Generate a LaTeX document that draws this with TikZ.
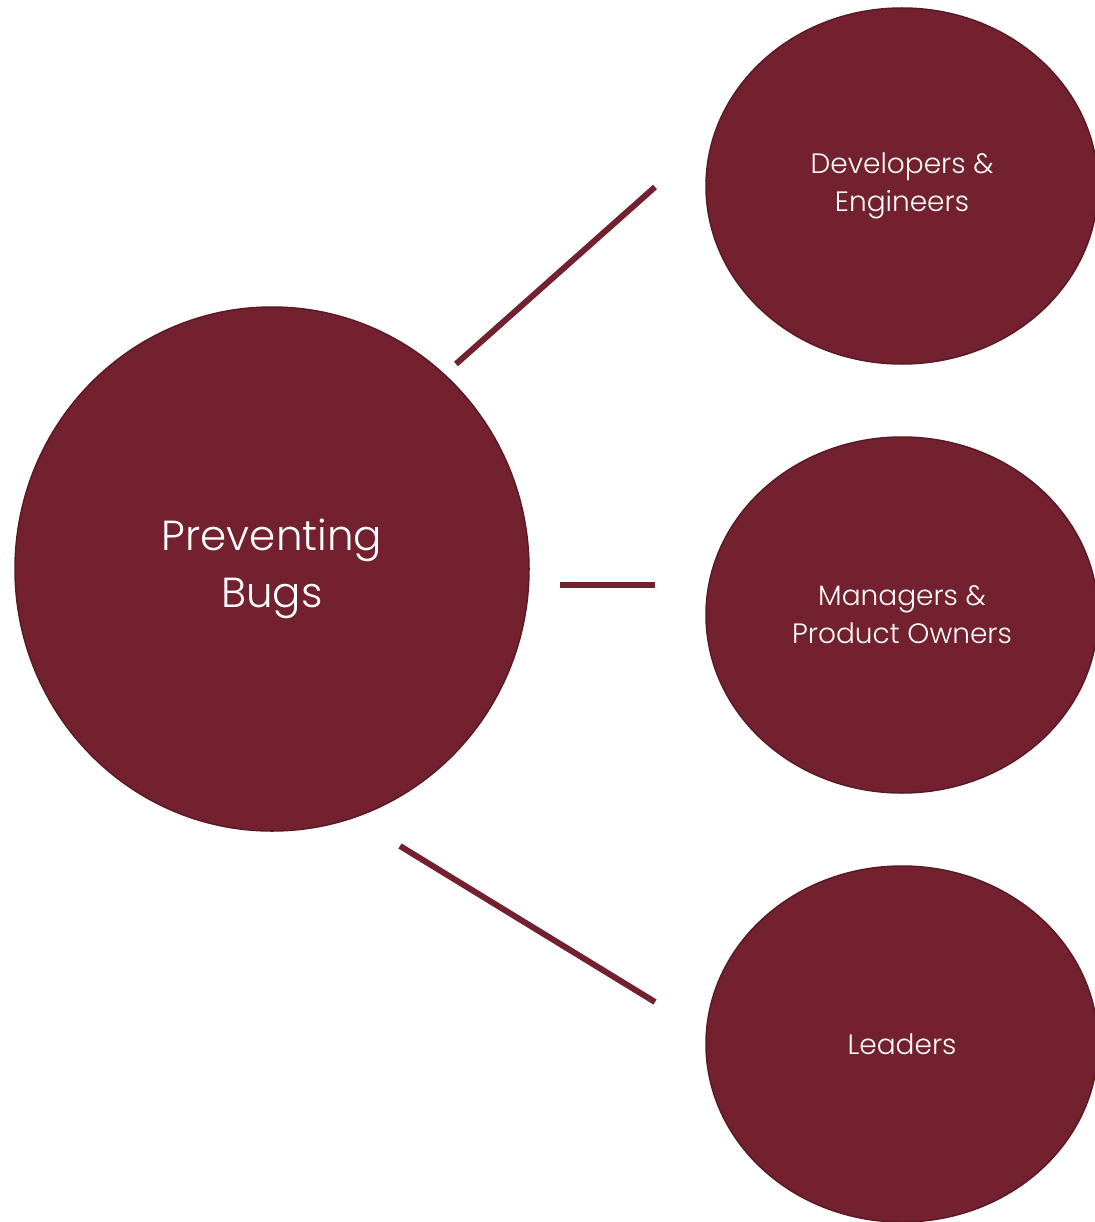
\documentclass[tikz,border=0pt]{standalone}
\usepackage{fontspec}
\setmainfont{Poppins}[UprightFont=* Light]
\usetikzlibrary{positioning, shapes.geometric}

\definecolor{bugred}{HTML}{74212F}
\definecolor{bugedge}{HTML}{5A1A25}

\tikzset{
  hub/.style={ellipse, fill=bugred, draw=bugedge, line width=1.5pt,
    minimum width=514pt, minimum height=524pt, inner sep=0pt, text=white,
    align=center, font=\fontsize{42}{57}\selectfont},
  role/.style={ellipse, fill=bugred, draw=bugedge, line width=1.5pt,
    minimum width=392pt, minimum height=356pt, inner sep=0pt, text=white,
    align=center, font=\fontsize{28}{38}\selectfont},
  link/.style={draw=bugred, line width=6pt}
}

\begin{document}
\begin{tikzpicture}[x=1pt, y=-1pt]
                \useasboundingbox (0,0) rectangle (1094,1222);

                % Central circle:
                \node[hub] (bugs) at (272,569) {Preventing\\Bugs};

                % Roles:
                \node[role] (devs) at (902,186) {Developers \&\\Engineers};
                \node[role] (mgrs) at (902,615) {Managers \&\\Product Owners};
                \node[role] (lead) at (902,1044) {Leaders};

                % Link ends:
                \coordinate (devs-a) at (456,364);
                \coordinate (devs-b) at (655,187);
                \coordinate (mgrs-a) at (560,585);
                \coordinate (mgrs-b) at (655,585);
                \coordinate (lead-a) at (400,846);
                \coordinate (lead-b) at (655,1002);

                % Links:
                \draw[link] (devs-a) -- (devs-b);
                \draw[link] (mgrs-a) -- (mgrs-b);
                \draw[link] (lead-a) -- (lead-b);
            \end{tikzpicture}
\end{document}
